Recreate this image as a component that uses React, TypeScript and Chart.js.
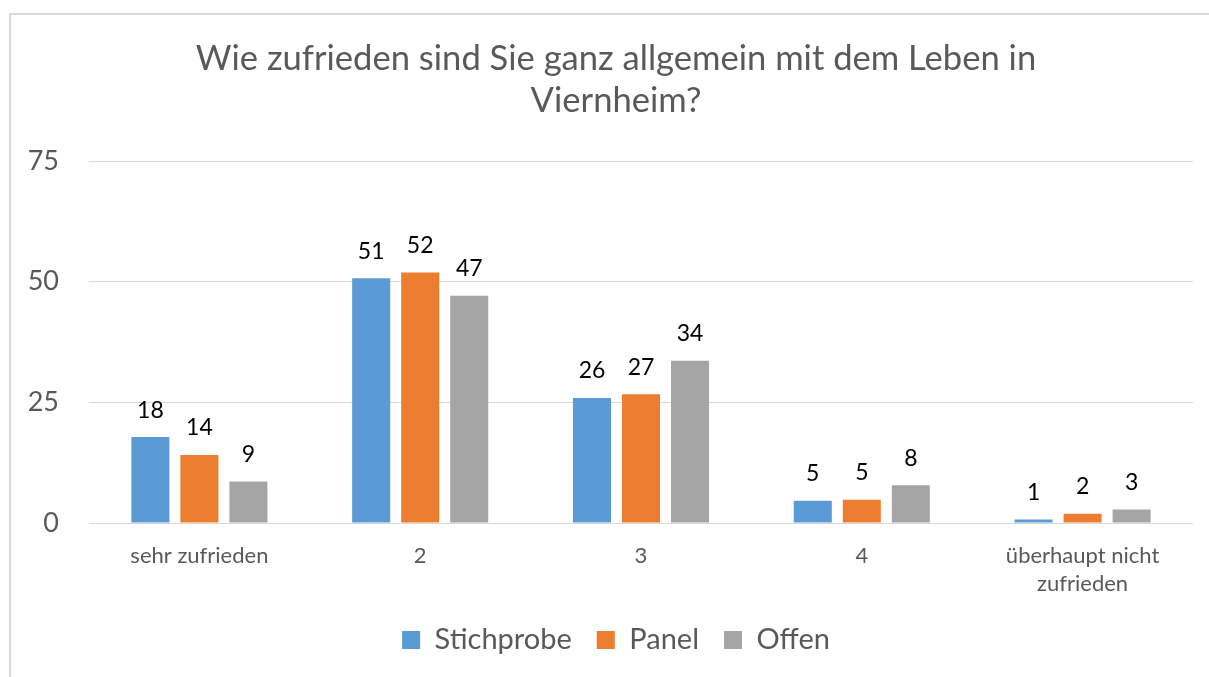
import React, { useEffect, useRef } from "react";
import { Chart, registerables } from "chart.js";

Chart.register(...registerables);

const categories: (string | string[])[] = ["sehr zufrieden", "2", "3", "4", ["überhaupt nicht", "zufrieden"]];
const seriesNames = ["Stichprobe", "Panel", "Offen"];
const stichprobe = [17.8, 50.7, 25.9, 4.6, 0.7];
const panel = [14.1, 51.9, 26.7, 4.8, 1.9];
const offen = [8.6, 47.1, 33.6, 7.8, 2.8];
const yMin = 0;
const yMax = 75;
const yStep = 25;
const titleLines = ["Wie zufrieden sind Sie ganz allgemein mit dem Leben in", "Viernheim?"];

const colors = ["#5B9BD5", "#ED7D31", "#A5A5A5"];
const FONT = "Lato";
const TEXT = "#595959";

const valueLabels = {
  id: "valueLabels",
  afterDatasetsDraw(chart: any) {
    const ctx = chart.ctx;
    ctx.save();
    ctx.font = `23px ${FONT}`;
    ctx.fillStyle = "#000000";
    ctx.textAlign = "center";
    ctx.textBaseline = "alphabetic";
    chart.data.datasets.forEach((ds: any, i: number) => {
      const meta = chart.getDatasetMeta(i);
      meta.data.forEach((bar: any, j: number) => {
        const v = ds.data[j];
        ctx.fillText(String(Math.round(v)), bar.x, bar.y - 19.5);
      });
    });
    ctx.restore();
  },
};

export default function App() {
  const ref = useRef<HTMLCanvasElement | null>(null);

  useEffect(() => {
    if (!ref.current) return;
    const chart = new Chart(ref.current, {
      type: "bar",
      data: {
        labels: categories,
        datasets: [stichprobe, panel, offen].map((d, i) => ({
          label: seriesNames[i],
          data: d,
          backgroundColor: colors[i],
          borderWidth: 0,
          categoryPercentage: 0.666,
          barPercentage: 0.776,
        })),
      },
      options: {
        responsive: false,
        animation: false,
        devicePixelRatio: 1,
        layout: { padding: { left: 0, right: 0, top: 0, bottom: 12.5 } },
        plugins: {
          title: {
            display: true,
            text: titleLines,
            color: TEXT,
            font: { family: FONT, size: 34.6, weight: "normal", lineHeight: 42 / 34.6 },
            padding: { top: 22.5, bottom: 39.5 },
          },
          legend: {
            position: "bottom",
            labels: {
              color: TEXT,
              font: { family: FONT, size: 29 },
              boxWidth: 18,
              boxHeight: 18,
              padding: 25,
            },
          },
          tooltip: { enabled: false },
        },
        scales: {
          x: {
            grid: { display: false, drawTicks: false },
            border: { display: false },
            ticks: {
              color: TEXT,
              font: { family: FONT, size: 22, lineHeight: 28 / 22 },
              padding: 19,
              maxRotation: 0,
              autoSkip: false,
            },
            afterFit: (s: any) => {
              s.height = 77.5;
            },
          },
          y: {
            min: yMin,
            max: yMax,
            grid: { color: "#D9D9D9", lineWidth: 1, drawTicks: false },
            border: { display: false },
            ticks: {
              stepSize: yStep,
              color: TEXT,
              font: { family: FONT, size: 27 },
              padding: 30,
            },
            afterFit: (s: any) => {
              s.width = 78;
            },
          },
          yRightSpace: {
            type: "linear",
            position: "right",
            display: true,
            grid: { display: false, drawTicks: false },
            border: { display: false },
            ticks: { display: false },
            afterFit: (s: any) => {
              s.width = 28;
            },
          },
        },
      },
      plugins: [valueLabels],
    } as any);
    return () => chart.destroy();
  }, []);

  return (
    <div style={{ position: "fixed", inset: 0, overflow: "hidden", background: "#fff" }}>
      <div
        style={{
          position: "absolute",
          left: 9,
          top: 13,
          width: 1240,
          height: 720,
          border: "2px solid #D9D9D9",
          boxSizing: "border-box",
        }}
      >
        <canvas ref={ref} width={1210} height={662} style={{ display: "block", width: 1210, height: 662 }} />
      </div>
    </div>
  );
}
